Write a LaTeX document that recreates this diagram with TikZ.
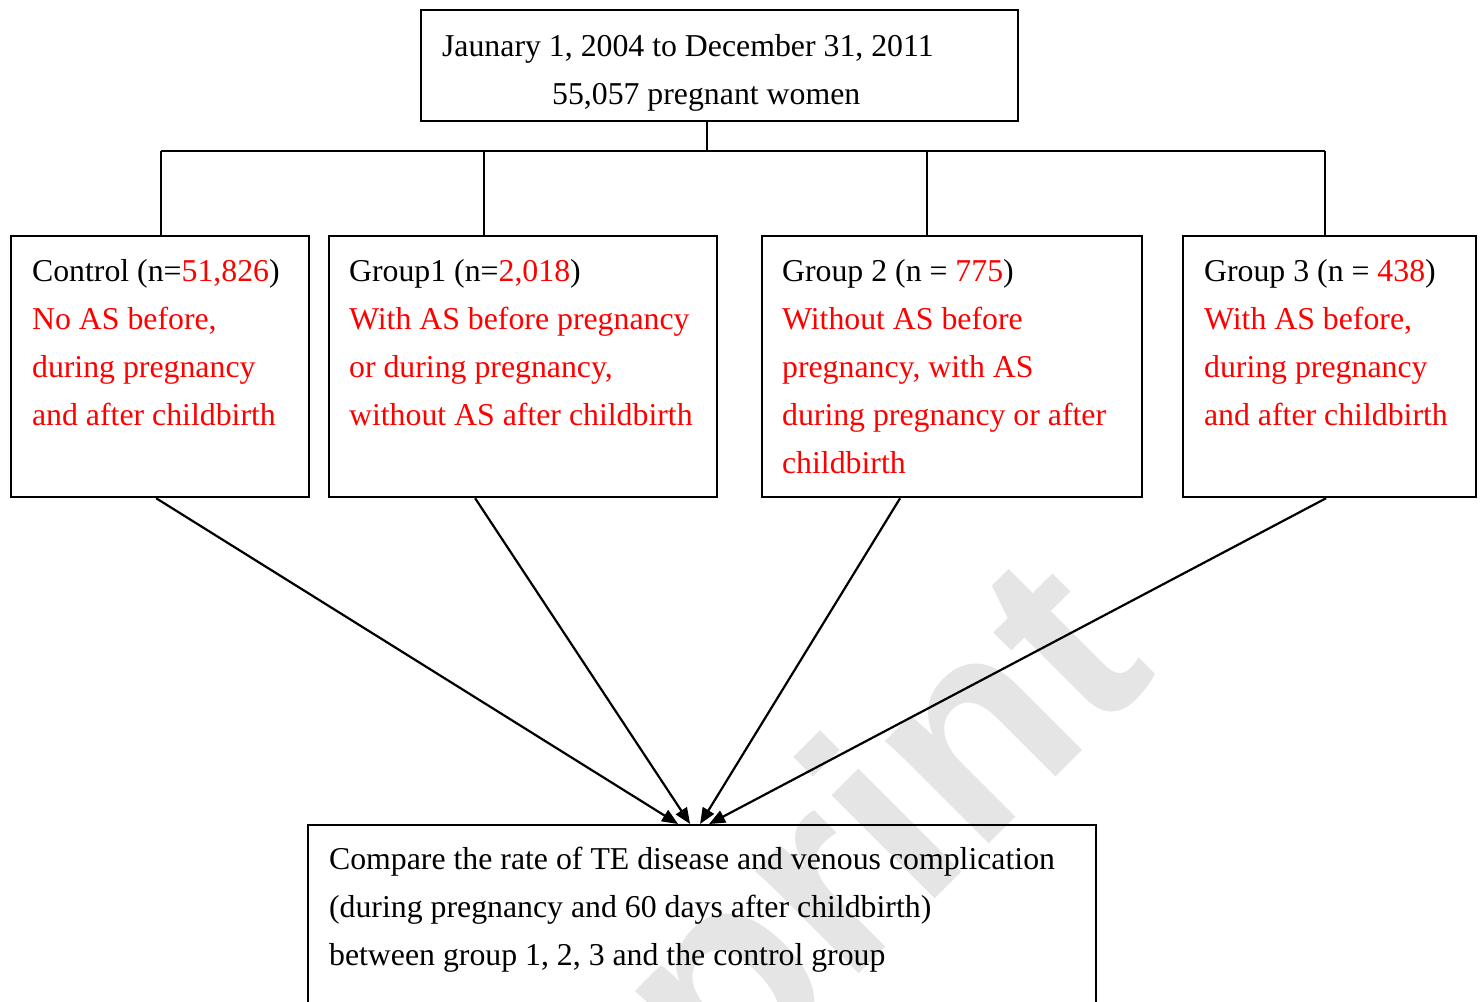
\documentclass[tikz,border=0pt]{standalone}
\usepackage{fontspec}
\setmainfont{Liberation Serif}
\newfontfamily\wmfont{Liberation Sans}
\usetikzlibrary{arrows.meta}

\begin{document}
\begin{tikzpicture}[
    x=0.5pt, y=-0.5pt,
    line width=1.1pt,
    font=\fontsize{15.9pt}{24pt}\selectfont,
    frame/.style={
        draw,
        anchor=north west,
        inner sep=0pt,
        minimum height=130.5pt
    },
    txt/.style={
        anchor=north west,
        inner sep=0pt,
        align=left
    },
    arr/.style={-{Triangle[length=8pt,width=6.5pt]}}
]

\useasboundingbox (0,0) rectangle (1482,1001);
\clip (0,0) rectangle (1482,1001);

% watermark
\node[rotate=45, anchor=base east, text=black!10, font=\wmfont\bfseries\fontsize{138pt}{138pt}\selectfont] (wm) at (1165,668) {Preprint};

% Top box
\node[frame, minimum width=298.5pt, minimum height=55.5pt] (top) at (420,9) {};
\node[txt] (toptxt) at (441,31) {\rule{0pt}{12pt}Jaunary 1, 2004 to December 31, 2011\\\hspace*{55pt}55,057 pregnant women};

% Group boxes
\node[frame, minimum width=149pt] (ctrl) at (10,235) {};
\node[frame, minimum width=194pt] (grp1) at (328,235) {};
\node[frame, minimum width=190pt] (grp2) at (761,235) {};
\node[frame, minimum width=146.5pt] (grp3) at (1182,235) {};

\node[txt] (ctrltxt) at (31,256) {\rule{0pt}{12pt}Control (n=\textcolor{red}{51,826})\\\color{red}No AS before,\\\color{red}during pregnancy\\\color{red}and after childbirth};
\node[txt] (grp1txt) at (348,256) {\rule{0pt}{12pt}Group1 (n=\textcolor{red}{2,018})\\\color{red}With AS before pregnancy\\\color{red}or during pregnancy,\\\color{red}without AS after childbirth};
\node[txt] (grp2txt) at (781,256) {\rule{0pt}{12pt}Group 2 (n = \textcolor{red}{775})\\\color{red}Without AS before\\\color{red}pregnancy, with AS\\\color{red}during pregnancy or after\\\color{red}childbirth};
\node[txt] (grp3txt) at (1203,256) {\rule{0pt}{12pt}Group 3 (n = \textcolor{red}{438})\\\color{red}With AS before,\\\color{red}during pregnancy\\\color{red}and after childbirth};

% Bottom box
\node[frame, minimum width=394pt, minimum height=200pt] (cmp) at (307,824) {};
\node[txt] (cmptxt) at (328,844) {\rule{0pt}{12pt}Compare the rate of TE disease and venous complication\\(during pregnancy and 60 days after childbirth)\\between group 1, 2, 3 and the control group};

% Tree lines
\coordinate (hub) at (707,151);
\coordinate (j1) at (161,151);
\coordinate (j2) at (484,151);
\coordinate (j3) at (927,151);
\coordinate (j4) at (1325,151);
\draw (top.south -| hub) -- (hub);
\draw (j1) -- (j4);
\draw (j1) -- (j1 |- ctrl.north);
\draw (j2) -- (j2 |- grp1.north);
\draw (j3) -- (j3 |- grp2.north);
\draw (j4) -- (j4 |- grp3.north);

% Arrows
\draw[arr] ([xshift=-2pt]ctrl.south) -- ([xshift=-12pt]cmp.north);
\draw[arr] ([xshift=-24pt]grp1.south) -- ([xshift=-6pt]cmp.north);
\draw[arr] ([xshift=-26pt]grp2.south) -- ([xshift=-1pt]cmp.north);
\draw[arr] ([xshift=-1.75pt]grp3.south) -- ([xshift=3.5pt]cmp.north);

\end{tikzpicture}
\end{document}
